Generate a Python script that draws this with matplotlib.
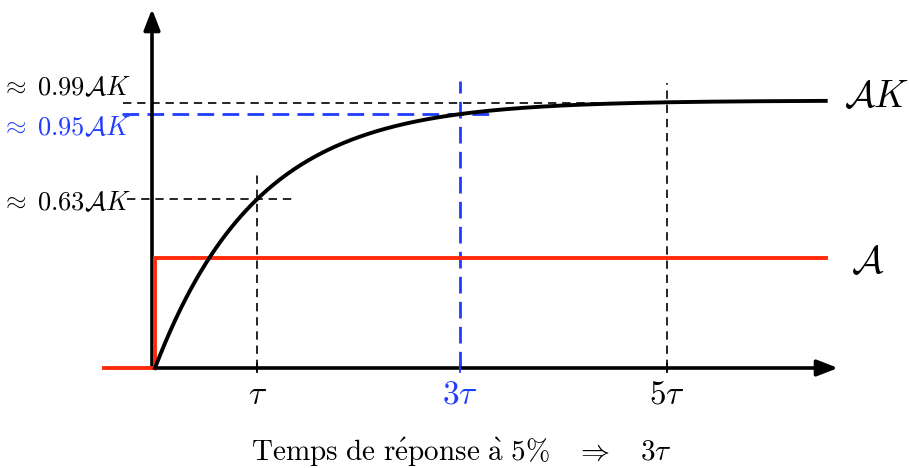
import matplotlib
matplotlib.use("Agg")
import matplotlib.pyplot as plt
import numpy as np

plt.rcParams['mathtext.fontset'] = 'cm'

# First-order system driven by a step of amplitude A
A = 1.0          # step amplitude
K = 2.43         # static gain
tau = 1.0        # time constant
t_input_start = -0.5
t_end = 6.55

tick_mult = [1, 3, 5]
tick_labels = [r'$\tau$', r'$3\tau$', r'$5\tau$']
level_fracs = [0.63, 0.95, 0.99]
level_labels = [r'$\approx\; 0.63\mathcal{A}K$', r'$\approx\; 0.95\mathcal{A}K$',
                r'$\approx\; 0.99\mathcal{A}K$']

BLUE = '#1f3cff'
RED = '#ff2a0a'

W, H = 909, 468
fig = plt.figure(figsize=(W / 100, H / 100), dpi=100)
ax = fig.add_axes([0, 0, 1, 1])
ax.axis('off')

# pixel-based frame: origin and scales
x0_px, y0_px = 155, 368
px_per_tau = 102.4
AK = A * K
px_per_unit = 267.5 / AK
ax.set_xlim(-x0_px / px_per_tau, (W - x0_px) / px_per_tau)
ax.set_ylim(-(H - y0_px) / px_per_unit, y0_px / px_per_unit)

def X(px):
    return (px - x0_px) / px_per_tau

def Y(py):
    return (y0_px - py) / px_per_unit

# axes arrows
arrow_kw = dict(arrowstyle='-|>,head_length=0.9,head_width=0.35', color='black',
                lw=2.6, shrinkA=0, shrinkB=0, mutation_scale=14)
ax.annotate('', xy=(X(838), 0), xytext=(X(152), 0), arrowprops=arrow_kw, zorder=3)
ax.annotate('', xy=(X(152), Y(9)), xytext=(X(152), 0), arrowprops=arrow_kw, zorder=3)

# guide lines at tau, 3tau, 5tau
blk_dash = dict(color='black', lw=1.2, dashes=(5, 3.5), zorder=2)
blue_dash = dict(color=BLUE, lw=2.0, dashes=(6, 3), zorder=2)

# 0.63 AK at tau
ax.plot([tick_mult[0] * tau] * 2, [0, Y(172)], **blk_dash)
ax.plot([X(127), X(297)], [level_fracs[0] * AK] * 2, **blk_dash)
# 0.95 AK at 3 tau
ax.plot([X(460)] * 2, [0, Y(81)], **blue_dash)
ax.plot([X(122), X(497)], [level_fracs[1] * AK] * 2, **blue_dash)
# 0.99 AK at 5 tau
ax.plot([tick_mult[2] * tau] * 2, [0, Y(83)], **blk_dash)
ax.plot([X(123), tick_mult[2] * tau], [level_fracs[2] * AK] * 2, **blk_dash)

# step input
ax.plot([t_input_start, 0, 0, t_end], [0, 0, A, A], color=RED, lw=2.8,
        solid_joinstyle='miter', zorder=4)

# response
t = np.linspace(0, t_end, 400)
y = AK * (1 - np.exp(-t / tau))
ax.plot(t, y, color='black', lw=2.8, zorder=5)

# ticks on the time axis
for m, c in zip(tick_mult, ['black', BLUE, 'black']):
    xm = X(460) if m == 3 else m * tau
    ax.plot([xm, xm], [Y(364), Y(372)], color=c, lw=1.3, zorder=6)

# tick labels
fs_tick = 24
ax.text(tick_mult[0] * tau, Y(394), tick_labels[0], ha='center', va='center',
        fontsize=fs_tick, color='black')
ax.text(X(460), Y(394), tick_labels[1], ha='center', va='center',
        fontsize=fs_tick, color=BLUE)
ax.text(tick_mult[2] * tau, Y(394), tick_labels[2], ha='center', va='center',
        fontsize=fs_tick, color='black')

# level labels
fs_lvl = 19
ax.text(X(131), Y(203), level_labels[0], ha='right', va='center', fontsize=fs_lvl,
        color='black')
ax.text(X(131), Y(128), level_labels[1], ha='right', va='center', fontsize=fs_lvl,
        color=BLUE)
ax.text(X(131), Y(88), level_labels[2], ha='right', va='center', fontsize=fs_lvl,
        color='black')

# curve labels
ax.text(X(844), Y(97), r'$\mathcal{A}K$', ha='left', va='center', fontsize=27)
ax.text(X(851), Y(262), r'$\mathcal{A}$', ha='left', va='center', fontsize=28)

# caption
ax.text(X(461), Y(452),
        r'$\mathrm{Temps\ de\ r\acute{e}ponse\ \grave{a}\ 5\%}\quad\Rightarrow\quad 3\tau$',
        ha='center', va='center', fontsize=21)

fig.savefig('out.png', dpi=100)
